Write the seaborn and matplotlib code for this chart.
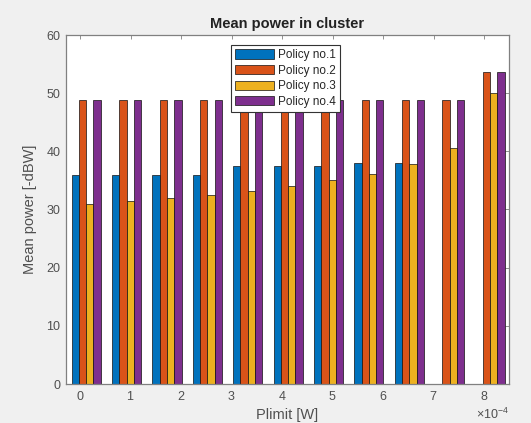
import numpy as np
import pandas as pd
import matplotlib
matplotlib.use("Agg")
import matplotlib.pyplot as plt
from matplotlib.ticker import MultipleLocator, ScalarFormatter
import seaborn as sns

# power limit per group [W]
plimit = [0.12e-4, 0.92e-4, 1.72e-4, 2.52e-4, 3.32e-4, 4.12e-4,
          4.92e-4, 5.72e-4, 6.52e-4, 7.32e-4, 8.12e-4]

policy_names = ["Policy no.1", "Policy no.2", "Policy no.3", "Policy no.4"]

# mean power [-dBW], nan = no bar
policy1 = [35.9, 35.9, 35.9, 35.9, 37.4, 37.4, 37.4, 38.0, 38.0, np.nan, np.nan]
policy2 = [48.8, 48.8, 48.8, 48.8, 48.8, 48.8, 48.8, 48.8, 48.8, 48.8, 53.7]
policy3 = [31.0, 31.5, 32.0, 32.5, 33.2, 34.0, 35.0, 36.1, 37.8, 40.5, 50.0]
policy4 = [48.8, 48.8, 48.8, 48.8, 48.8, 48.8, 48.8, 48.8, 48.8, 48.8, 53.7]

matlab_colors = ["#0072BD", "#D95319", "#EDB120", "#7E2F8E"]

rows = []
for name, vals in zip(policy_names, [policy1, policy2, policy3, policy4]):
    for x, v in zip(plimit, vals):
        rows.append({"plimit": x, "power": v, "policy": name})
df = pd.DataFrame(rows)

sns.set_style("white")
plt.rcParams["font.family"] = ["Liberation Sans", "DejaVu Sans"]
plt.rcParams["mathtext.fontset"] = "custom"
plt.rcParams["mathtext.rm"] = "Liberation Sans"

fig = plt.figure(figsize=(5.31, 4.23), dpi=100, facecolor="#f0f0f0")
ax = fig.add_axes([66 / 531, 1 - 384 / 423, 443 / 531, 349 / 423])
ax.set_facecolor("white")

sns.barplot(data=df, x="plimit", y="power", hue="policy", native_scale=True,
            palette=matlab_colors, saturation=1, errorbar=None, width=0.72,
            edgecolor="#111111", linewidth=0.5, ax=ax)

ax.set_xlim(-0.28e-4, 8.495e-4)
ax.set_ylim(0, 60)
ax.xaxis.set_major_locator(MultipleLocator(1e-4))
ax.yaxis.set_major_locator(MultipleLocator(10))
fmt = ScalarFormatter(useMathText=True)
fmt.set_powerlimits((0, 0))
ax.xaxis.set_major_formatter(fmt)

ax.tick_params(direction="in", length=3, width=0.6, color="#808080",
               labelcolor="#505050", labelsize=9, top=True, right=True, pad=4)
ax.xaxis.get_offset_text().set_fontsize(9)
ax.xaxis.get_offset_text().set_color("#505050")
for sp in ax.spines.values():
    sp.set_visible(True)
    sp.set_color("#808080")
    sp.set_linewidth(0.9)

ax.set_title("Mean power in cluster", fontsize=10.5, fontweight="bold",
             color="#222222", pad=5)
ax.set_xlabel("Plimit [W]", fontsize=10.5, color="#505050", labelpad=4)
ax.set_ylabel("Mean power [-dBW]", fontsize=10.5, color="#505050", labelpad=7)

sns.move_legend(ax, "upper left", bbox_to_anchor=(0.3725, 0.971), title=None,
                fontsize=8.5, frameon=True, fancybox=False, framealpha=1,
                borderaxespad=0, handlelength=3.3, handleheight=0.85,
                labelspacing=0.3, handletextpad=0.3, borderpad=0.35)
leg = ax.get_legend()
leg.get_frame().set_edgecolor("#333333")
leg.get_frame().set_linewidth(0.8)
for h in leg.legend_handles:
    h.set_edgecolor("#111111")
    h.set_linewidth(0.5)

fig.savefig("out.png", dpi=100, facecolor=fig.get_facecolor())
